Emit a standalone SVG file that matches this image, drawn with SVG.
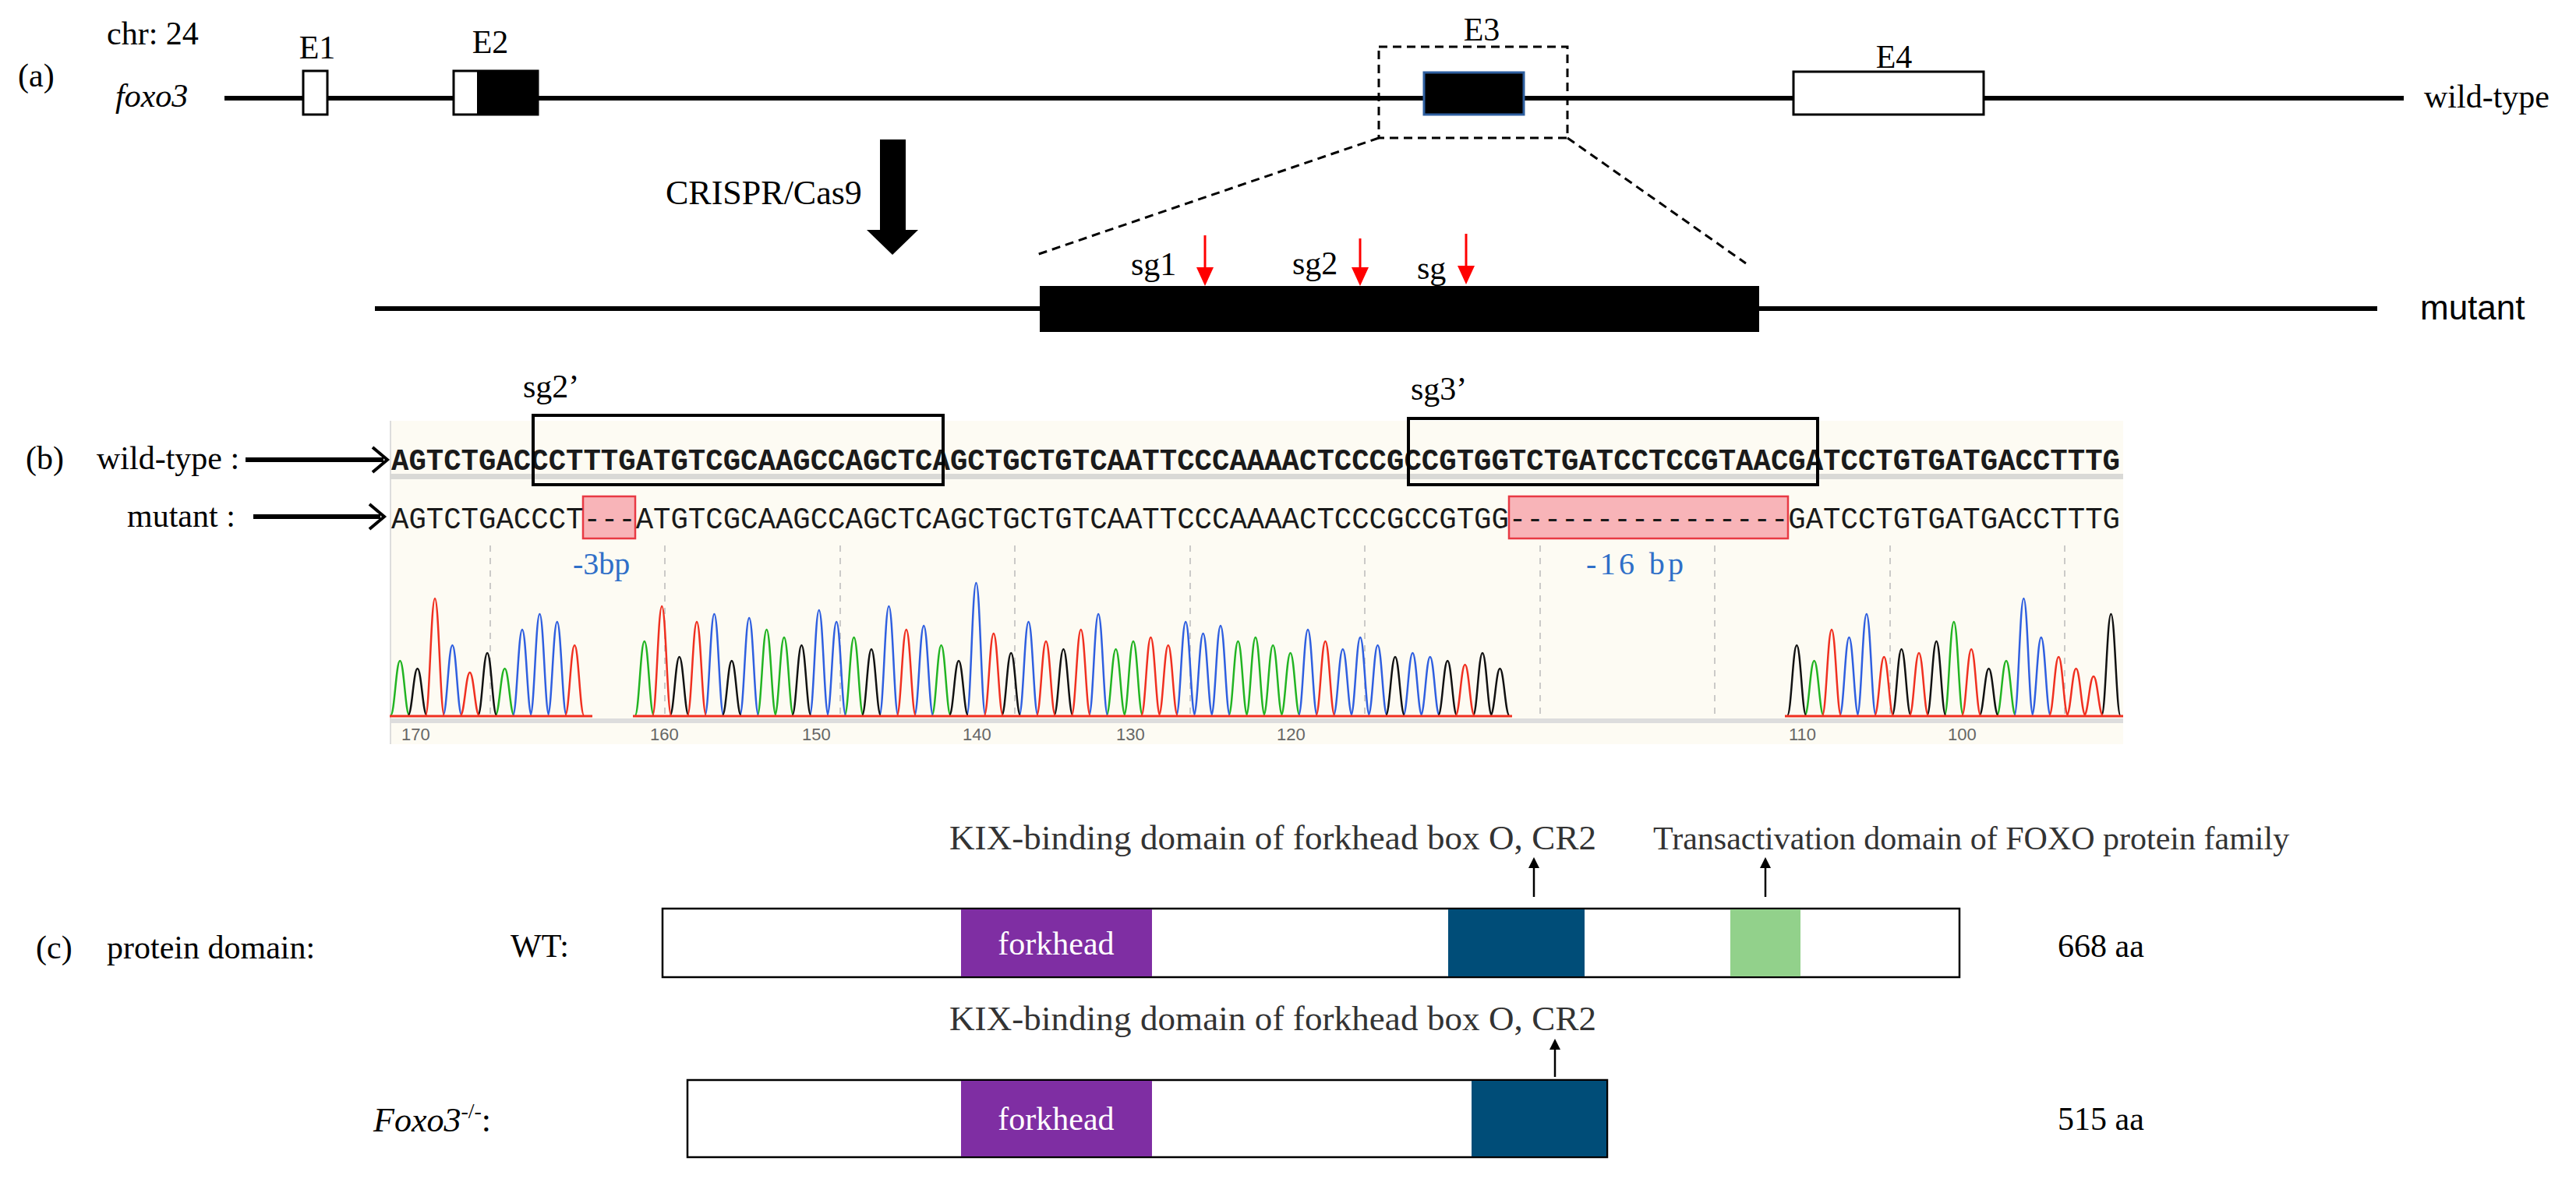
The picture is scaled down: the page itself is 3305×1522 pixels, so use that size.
<svg xmlns="http://www.w3.org/2000/svg" width="3305" height="1522" viewBox="0 0 3305 1522">
<style>
.t{font-family:"Liberation Serif",serif;font-size:42px;fill:#000}
.it{font-style:italic}
.dom{font-family:"Liberation Serif",serif;font-size:42px;fill:#333}
.kix{font-family:"Liberation Serif",serif;font-size:45px;fill:#333}
.seq{font-family:"Liberation Mono",monospace;font-size:38px;fill:#1a1a1a}
.ax{font-family:"Liberation Sans",sans-serif;font-size:22px;fill:#666}
.ln{stroke:#000;stroke-width:6;fill:none}
.ex{fill:#fff;stroke:#000;stroke-width:3}
.dash{stroke:#000;stroke-width:3;fill:none;stroke-dasharray:11,7}
.pa{fill:none;stroke:#22b422;stroke-width:2.5}
.pc{fill:none;stroke:#2f5fe0;stroke-width:2.5}
.pg{fill:none;stroke:#111;stroke-width:2.5}
.pt{fill:none;stroke:#f03020;stroke-width:2.5}
.grid{stroke:#bbb;stroke-width:1.5;stroke-dasharray:8,8}
.red{stroke:#f00;stroke-width:3}
.pink{fill:#f8b4b8;stroke:#e83a44;stroke-width:2.5}
.bp{font-family:"Liberation Serif",serif;font-size:40px;fill:#2f6fc8}
</style>
<rect width="3305" height="1522" fill="#fff"/>

<!-- (a) gene structure -->
<g id="labels-a">
<text class="t" x="23" y="111">(a)</text>
<text class="t" x="137" y="57">chr: 24</text>
<text class="t it" x="148" y="137">foxo3</text>
<text class="t" x="3110" y="138">wild-type</text>
<text x="3105" y="410" style="font-family:'Liberation Sans',sans-serif;font-size:44px;fill:#000">mutant</text>
<text class="t" x="854" y="262" style="font-size:44px">CRISPR/Cas9</text>
</g>
<g id="connectors">
<line class="ln" x1="288" y1="126" x2="3084" y2="126"/>
<line class="ln" x1="481" y1="396" x2="3050" y2="396"/>
<rect class="dash" x="1769" y="60" width="242" height="117"/>
<line class="dash" x1="1769" y1="177" x2="1327" y2="328"/>
<line class="dash" x1="2011" y1="177" x2="2240" y2="338"/>
<rect x="1129" y="179" width="33" height="117" fill="#000"/>
<path d="M1112,295 L1178,295 L1145,327 Z" fill="#000"/>
<line class="red" x1="1546" y1="302" x2="1546" y2="345"/>
<path d="M1535,343 L1557,343 L1546,367 Z" fill="#f00"/>
<line class="red" x1="1745" y1="306" x2="1745" y2="345"/>
<path d="M1734,343 L1756,343 L1745,367 Z" fill="#f00"/>
<line class="red" x1="1881" y1="300" x2="1881" y2="343"/>
<path d="M1870,341 L1892,341 L1881,365 Z" fill="#f00"/>
<line class="ln" x1="315" y1="590" x2="492" y2="590"/>
<polyline points="478,574 497,590 478,606" fill="none" stroke="#000" stroke-width="4"/>
<line class="ln" x1="325" y1="663" x2="488" y2="663"/>
<polyline points="474,647 493,663 474,679" fill="none" stroke="#000" stroke-width="4"/>
<line x1="1968" y1="1151" x2="1968" y2="1110" stroke="#000" stroke-width="2.5"/>
<path d="M1961,1114 L1975,1114 L1968,1100 Z" fill="#000"/>
<line x1="2265" y1="1151" x2="2265" y2="1110" stroke="#000" stroke-width="2.5"/>
<path d="M2258,1114 L2272,1114 L2265,1100 Z" fill="#000"/>
<line x1="1995" y1="1382" x2="1995" y2="1343" stroke="#000" stroke-width="2.5"/>
<path d="M1988,1347 L2002,1347 L1995,1333 Z" fill="#000"/>
</g>
<g id="E1"><rect class="ex" x="389" y="91" width="31" height="56"/><text class="t" x="407" y="75" text-anchor="middle">E1</text></g>
<g id="E2"><rect class="ex" x="582" y="91" width="108" height="56"/><rect x="612" y="91" width="78" height="56" fill="#000"/><text class="t" x="629" y="68" text-anchor="middle">E2</text></g>
<g id="E3"><rect x="1827" y="93" width="128" height="54" fill="#000" stroke="#2e5fa0" stroke-width="3"/><text class="t" x="1901" y="52" text-anchor="middle">E3</text></g>
<g id="E4"><rect class="ex" x="2301" y="92" width="244" height="55"/><text class="t" x="2430" y="87" text-anchor="middle">E4</text></g>
<g id="E3-mutant">
<rect x="1334" y="367" width="923" height="59" fill="#000"/>
<text class="t" x="1451" y="353">sg1</text>
<text class="t" x="1658" y="352">sg2</text>
<text class="t" x="1818" y="358">sg</text>
</g>

<!-- (b) sequencing -->
<g id="labels-b">
<text class="t" x="33" y="602">(b)</text>
<text class="t" x="124" y="602">wild-type :</text>
<text class="t" x="163" y="676">mutant :</text>
<text class="t" x="671" y="510">sg2’</text>
<text class="t" x="1810" y="513">sg3’</text>
</g>
<g id="chromatogram">
<rect x="500" y="540" width="2224" height="415" fill="#fdfbf3"/>
<line x1="501" y1="540" x2="501" y2="955" stroke="#ddd" stroke-width="2"/>
<rect x="500" y="608" width="2224" height="7" fill="#d9d9d6"/>
<text class="seq" x="502" y="603" textLength="2218" lengthAdjust="spacingAndGlyphs" font-weight="bold">AGTCTGACCCTTTGATGTCGCAAGCCAGCTCAGCTGCTGTCAATTCCCAAAACTCCCGCCGTGGTCTGATCCTCCGTAACGATCCTGTGATGACCTTTG</text>
<rect class="pink" x="748" y="637" width="67" height="54"/>
<rect class="pink" x="1936" y="637" width="358" height="54"/>
<text class="seq" x="502" y="678" textLength="2218" lengthAdjust="spacingAndGlyphs">AGTCTGACCCT---ATGTCGCAAGCCAGCTCAGCTGCTGTCAATTCCCAAAACTCCCGCCGTGG----------------GATCCTGTGATGACCTTTG</text>
<text class="bp" x="735" y="737">-3bp</text>
<text class="bp" x="2035" y="737" textLength="125">-16 bp</text>
<g>
<line class="grid" x1="629" y1="700" x2="629" y2="918"/>
<line class="grid" x1="853" y1="700" x2="853" y2="918"/>
<line class="grid" x1="1078" y1="700" x2="1078" y2="918"/>
<line class="grid" x1="1302" y1="700" x2="1302" y2="918"/>
<line class="grid" x1="1527" y1="700" x2="1527" y2="918"/>
<line class="grid" x1="1751" y1="700" x2="1751" y2="918"/>
<line class="grid" x1="1976" y1="700" x2="1976" y2="918"/>
<line class="grid" x1="2200" y1="700" x2="2200" y2="918"/>
<line class="grid" x1="2425" y1="700" x2="2425" y2="918"/>
<line class="grid" x1="2649" y1="700" x2="2649" y2="918"/>
</g>
<path class="pa" d="M501.2,918c5,0 7,-70 12,-70s7,70 12,70M635.6,918c5,0 7,-60 12,-60s7,60 12,60M814.8,918c5,0 7,-95 12,-95s7,95 12,95M971.6,918c5,0 7,-110 12,-110s7,110 12,110M994,918c5,0 7,-100 12,-100s7,100 12,100M1083.6,918c5,0 7,-100 12,-100s7,100 12,100M1195.6,918c5,0 7,-90 12,-90s7,90 12,90M1419.6,918c5,0 7,-85 12,-85s7,85 12,85M1442,918c5,0 7,-95 12,-95s7,95 12,95M1576.4,918c5,0 7,-95 12,-95s7,95 12,95M1598.8,918c5,0 7,-100 12,-100s7,100 12,100M1621.2,918c5,0 7,-90 12,-90s7,90 12,90M1643.6,918c5,0 7,-80 12,-80s7,80 12,80M2315.6,918c5,0 7,-70 12,-70s7,70 12,70M2494.8,918c5,0 7,-120 12,-120s7,120 12,120M2562,918c5,0 7,-70 12,-70s7,70 12,70"/>
<path class="pc" d="M568.4,918c5,0 7,-90 12,-90s7,90 12,90M658,918c5,0 7,-110 12,-110s7,110 12,110M680.4,918c5,0 7,-130 12,-130s7,130 12,130M702.8,918c5,0 7,-120 12,-120s7,120 12,120M904.4,918c5,0 7,-130 12,-130s7,130 12,130M949.2,918c5,0 7,-125 12,-125s7,125 12,125M1038.8,918c5,0 7,-135 12,-135s7,135 12,135M1061.2,918c5,0 7,-120 12,-120s7,120 12,120M1128.4,918c5,0 7,-140 12,-140s7,140 12,140M1173.2,918c5,0 7,-115 12,-115s7,115 12,115M1240.4,918c5,0 7,-170 12,-170s7,170 12,170M1307.6,918c5,0 7,-120 12,-120s7,120 12,120M1397.2,918c5,0 7,-130 12,-130s7,130 12,130M1509.2,918c5,0 7,-120 12,-120s7,120 12,120M1531.6,918c5,0 7,-105 12,-105s7,105 12,105M1554,918c5,0 7,-115 12,-115s7,115 12,115M1666,918c5,0 7,-110 12,-110s7,110 12,110M1710.8,918c5,0 7,-85 12,-85s7,85 12,85M1733.2,918c5,0 7,-100 12,-100s7,100 12,100M1755.6,918c5,0 7,-90 12,-90s7,90 12,90M1800.4,918c5,0 7,-80 12,-80s7,80 12,80M1822.8,918c5,0 7,-75 12,-75s7,75 12,75M2360.4,918c5,0 7,-100 12,-100s7,100 12,100M2382.8,918c5,0 7,-130 12,-130s7,130 12,130M2584.4,918c5,0 7,-150 12,-150s7,150 12,150M2606.8,918c5,0 7,-100 12,-100s7,100 12,100"/>
<path class="pg" d="M523.6,918c5,0 7,-60 12,-60s7,60 12,60M613.2,918c5,0 7,-80 12,-80s7,80 12,80M859.6,918c5,0 7,-75 12,-75s7,75 12,75M926.8,918c5,0 7,-70 12,-70s7,70 12,70M1016.4,918c5,0 7,-90 12,-90s7,90 12,90M1106,918c5,0 7,-85 12,-85s7,85 12,85M1218,918c5,0 7,-70 12,-70s7,70 12,70M1285.2,918c5,0 7,-80 12,-80s7,80 12,80M1352.4,918c5,0 7,-85 12,-85s7,85 12,85M1778,918c5,0 7,-75 12,-75s7,75 12,75M1845.2,918c5,0 7,-70 12,-70s7,70 12,70M1890,918c5,0 7,-80 12,-80s7,80 12,80M1912.4,918c5,0 7,-60 12,-60s7,60 12,60M2293.2,918c5,0 7,-90 12,-90s7,90 12,90M2427.6,918c5,0 7,-85 12,-85s7,85 12,85M2472.4,918c5,0 7,-95 12,-95s7,95 12,95M2539.6,918c5,0 7,-60 12,-60s7,60 12,60M2696.4,918c5,0 7,-130 12,-130s7,130 12,130"/>
<path class="pt" d="M546,918c5,0 7,-150 12,-150s7,150 12,150M590.8,918c5,0 7,-55 12,-55s7,55 12,55M725.2,918c5,0 7,-90 12,-90s7,90 12,90M837.2,918c5,0 7,-140 12,-140s7,140 12,140M882,918c5,0 7,-120 12,-120s7,120 12,120M1150.8,918c5,0 7,-110 12,-110s7,110 12,110M1262.8,918c5,0 7,-105 12,-105s7,105 12,105M1330,918c5,0 7,-95 12,-95s7,95 12,95M1374.8,918c5,0 7,-110 12,-110s7,110 12,110M1464.4,918c5,0 7,-100 12,-100s7,100 12,100M1486.8,918c5,0 7,-90 12,-90s7,90 12,90M1688.4,918c5,0 7,-95 12,-95s7,95 12,95M1867.6,918c5,0 7,-65 12,-65s7,65 12,65M2338,918c5,0 7,-110 12,-110s7,110 12,110M2405.2,918c5,0 7,-75 12,-75s7,75 12,75M2450,918c5,0 7,-80 12,-80s7,80 12,80M2517.2,918c5,0 7,-85 12,-85s7,85 12,85M2629.2,918c5,0 7,-75 12,-75s7,75 12,75M2651.6,918c5,0 7,-60 12,-60s7,60 12,60M2674,918c5,0 7,-50 12,-50s7,50 12,50"/>
<line x1="500" y1="919" x2="760" y2="919" stroke="#f03020" stroke-width="3"/>
<line x1="812" y1="919" x2="1940" y2="919" stroke="#f03020" stroke-width="3"/>
<line x1="2290" y1="919" x2="2724" y2="919" stroke="#f03020" stroke-width="3"/>
<rect x="500" y="922" width="2224" height="6" fill="#ddd"/>
<text class="ax" x="515" y="950">170</text>
<text class="ax" x="834" y="950">160</text>
<text class="ax" x="1029" y="950">150</text>
<text class="ax" x="1235" y="950">140</text>
<text class="ax" x="1432" y="950">130</text>
<text class="ax" x="1638" y="950">120</text>
<text class="ax" x="2295" y="950">110</text>
<text class="ax" x="2499" y="950">100</text>
</g>
<g id="sg-boxes">
<rect x="684" y="533" width="526" height="89" fill="none" stroke="#000" stroke-width="4"/>
<rect x="1807" y="537" width="525" height="85" fill="none" stroke="#000" stroke-width="4"/>
</g>

<!-- (c) protein domains -->
<g id="labels-c">
<text class="t" x="46" y="1230">(c)</text>
<text class="t" x="137" y="1230">protein domain:</text>
<text class="kix" x="1218" y="1090" textLength="830">KIX-binding domain of forkhead box O, CR2</text>
<text class="dom" x="2121" y="1090">Transactivation  domain of FOXO protein family</text>
<text class="kix" x="1218" y="1322" textLength="830">KIX-binding domain of forkhead box O, CR2</text>
</g>
<g id="WT-protein">
<text class="t" x="655" y="1228">WT:</text>
<rect x="850" y="1166" width="1664" height="88" fill="#fff" stroke="#000" stroke-width="2.5"/>
<rect x="1233" y="1167" width="245" height="86" fill="#7f2ea3"/>
<text x="1355" y="1225" text-anchor="middle" style="font-family:'Liberation Serif',serif;font-size:42px;fill:#fff">forkhead</text>
<rect x="1858" y="1167" width="175" height="86" fill="#004d78"/>
<rect x="2220" y="1167" width="90" height="86" fill="#92d18b"/>
<text class="t" x="2640" y="1228">668 aa</text>
</g>
<g id="mutant-protein">
<text class="t" x="479" y="1452" style="font-size:44px"><tspan class="it">Foxo3</tspan><tspan dy="-17" font-size="28">-/-</tspan><tspan dy="17">:</tspan></text>
<rect x="882" y="1386" width="1180" height="99" fill="#fff" stroke="#000" stroke-width="2.5"/>
<rect x="1233" y="1387" width="245" height="97" fill="#7f2ea3"/>
<text x="1355" y="1450" text-anchor="middle" style="font-family:'Liberation Serif',serif;font-size:42px;fill:#fff">forkhead</text>
<rect x="1888" y="1387" width="173" height="97" fill="#004d78"/>
<text class="t" x="2640" y="1450">515 aa</text>
</g>
</svg>
